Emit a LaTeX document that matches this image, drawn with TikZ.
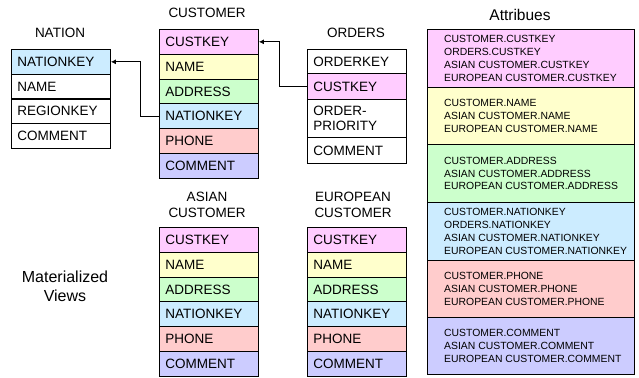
\documentclass[tikz,border=0pt]{standalone}
\usepackage{fontspec}
\setmainfont{Liberation Sans}
\usetikzlibrary{arrows.meta,positioning}
\definecolor{cpink}{HTML}{FFCCFF}
\definecolor{cyel}{HTML}{FFFFCC}
\definecolor{cgreen}{HTML}{CCFFCC}
\definecolor{cblue}{HTML}{CCECFF}
\definecolor{cred}{HTML}{FFCCCC}
\definecolor{cviolet}{HTML}{CCCCFF}
\begin{document}
\begin{tikzpicture}[x=1pt,y=-1pt,
  cell/.style={draw=black,line width=0.9pt,anchor=north west,minimum width=99pt,
    minimum height=24.8pt,text width=87pt,inner xsep=6pt,inner ysep=0pt,align=left,
    font=\fontsize{13.5}{15}\selectfont},
  acell/.style={draw=black,line width=0.9pt,anchor=north west,minimum width=207pt,inner sep=0pt},
  atext/.style={anchor=west,align=left,inner sep=0pt,font=\fontsize{10.4}{12.8}\selectfont},
  ttl/.style={align=center,inner sep=0pt,font=\fontsize{13.5}{16}\selectfont},
  fk/.style={line width=0.9pt,-{Latex[length=5pt,width=5pt]}}]
\useasboundingbox (0,0) rectangle (639,377);

% NATION
\node[ttl] (tn) at (60,33) {NATION};
\node[cell,fill=cblue] (n1) at (11,49) {NATIONKEY};
\node[cell] (n2) at (11,73.75) {NAME};
\node[cell] (n3) at (11,98.5) {REGIONKEY};
\node[cell] (n4) at (11,123.25) {COMMENT};

% CUSTOMER
\node[ttl] (tc) at (207,13) {CUSTOMER};
\node[cell,fill=cpink] (c1) at (159,29) {CUSTKEY};
\node[cell,fill=cyel] (c2) at (159,53.8) {NAME};
\node[cell,fill=cgreen] (c3) at (159,78.6) {ADDRESS};
\node[cell,fill=cblue] (c4) at (159,103.4) {NATIONKEY};
\node[cell,fill=cred] (c5) at (159,128.2) {PHONE};
\node[cell,fill=cviolet] (c6) at (159,153) {COMMENT};

% ORDERS
\node[ttl] (to) at (356,33) {ORDERS};
\node[cell,minimum height=24.5pt] (o1) at (307,49) {ORDERKEY};
\node[cell,fill=cpink,minimum height=25.5pt] (o2) at (307,73.5) {CUSTKEY};
\node[cell,minimum height=38pt] (o3) at (307,99) {ORDER-\\PRIORITY};
\node[cell,minimum height=26pt] (o4) at (307,137) {COMMENT};

% ASIAN CUSTOMER
\node[ttl] (ta) at (207,205) {ASIAN\\CUSTOMER};
\node[cell,fill=cpink] (a1) at (159,227) {CUSTKEY};
\node[cell,fill=cyel] (a2) at (159,251.8) {NAME};
\node[cell,fill=cgreen] (a3) at (159,276.6) {ADDRESS};
\node[cell,fill=cblue] (a4) at (159,301.4) {NATIONKEY};
\node[cell,fill=cred] (a5) at (159,326.2) {PHONE};
\node[cell,fill=cviolet] (a6) at (159,351) {COMMENT};

% EUROPEAN CUSTOMER
\node[ttl] (te) at (353,205) {EUROPEAN\\CUSTOMER};
\node[cell,fill=cpink] (e1) at (307,227) {CUSTKEY};
\node[cell,fill=cyel] (e2) at (307,251.8) {NAME};
\node[cell,fill=cgreen] (e3) at (307,276.6) {ADDRESS};
\node[cell,fill=cblue] (e4) at (307,301.4) {NATIONKEY};
\node[cell,fill=cred] (e5) at (307,326.2) {PHONE};
\node[cell,fill=cviolet] (e6) at (307,351) {COMMENT};

% Materialized views label
\node[align=center,inner sep=0pt,font=\fontsize{16}{19}\selectfont] (mv) at (65,286) {Materialized\\Views};

% Attributes
\node[inner sep=0pt,font=\fontsize{15.5}{18}\selectfont] (tt) at (520,15) {Attribues};
\node[acell,fill=cpink,minimum height=58pt] (t1) at (427,29) {};
\node[acell,fill=cyel,minimum height=57pt] (t2) at (427,87) {};
\node[acell,fill=cgreen,minimum height=58pt] (t3) at (427,144) {};
\node[acell,fill=cblue,minimum height=58pt] (t4) at (427,202) {};
\node[acell,fill=cred,minimum height=57pt] (t5) at (427,260) {};
\node[acell,fill=cviolet,minimum height=57pt] (t6) at (427,317) {};
\node[atext,right=17pt of t1.west] (x1) {CUSTOMER.CUSTKEY\\ORDERS.CUSTKEY\\ASIAN CUSTOMER.CUSTKEY\\EUROPEAN CUSTOMER.CUSTKEY};
\node[atext,right=17pt of t2.west] (x2) {CUSTOMER.NAME\\ASIAN CUSTOMER.NAME\\EUROPEAN CUSTOMER.NAME};
\node[atext,right=17pt of t3.west] (x3) {CUSTOMER.ADDRESS\\ASIAN CUSTOMER.ADDRESS\\EUROPEAN CUSTOMER.ADDRESS};
\node[atext,right=17pt of t4.west] (x4) {CUSTOMER.NATIONKEY\\ORDERS.NATIONKEY\\ASIAN CUSTOMER.NATIONKEY\\EUROPEAN CUSTOMER.NATIONKEY};
\node[atext,right=17pt of t5.west] (x5) {CUSTOMER.PHONE\\ASIAN CUSTOMER.PHONE\\EUROPEAN CUSTOMER.PHONE};
\node[atext,right=17pt of t6.west] (x6) {CUSTOMER.COMMENT\\ASIAN CUSTOMER.COMMENT\\EUROPEAN CUSTOMER.COMMENT};

% foreign keys
\draw[fk] (c4.west) -- ++(-19,0) |- (n1.east);
\draw[fk] (o2.west) -- ++(-28,0) |- (c1.east);
\end{tikzpicture}
\end{document}
